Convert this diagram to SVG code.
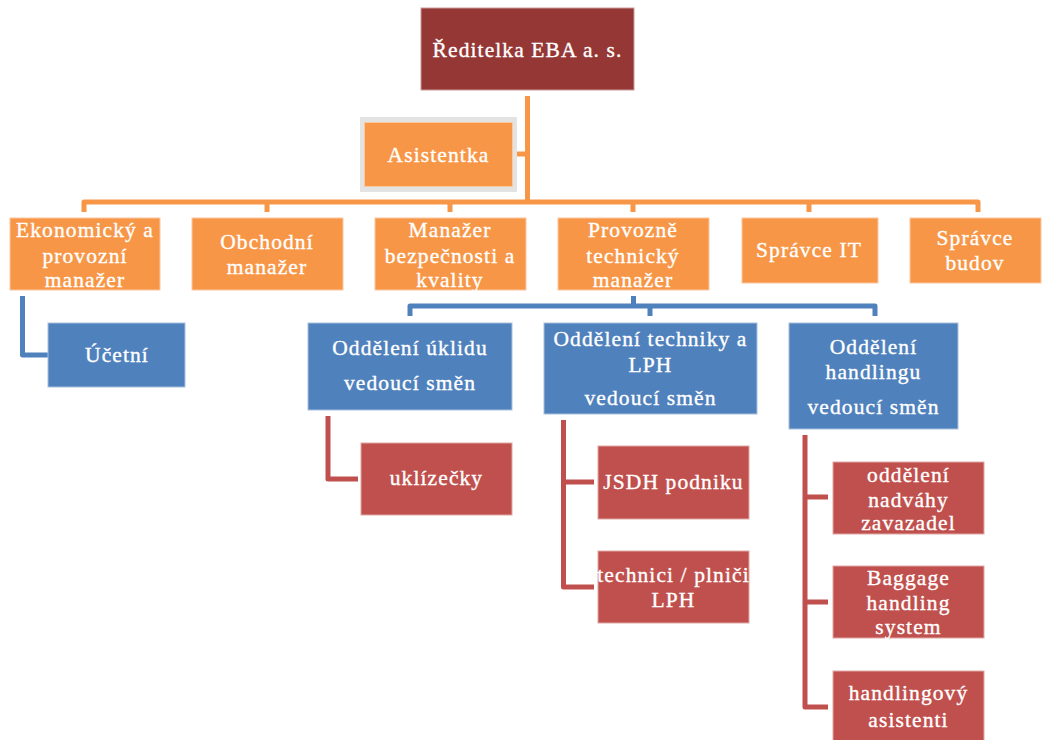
<svg xmlns="http://www.w3.org/2000/svg" width="1044" height="740" viewBox="0 0 1044 740">
<style>
text{font-family:"Liberation Serif","Times New Roman",serif;font-size:21.5px;fill:#ffffff;stroke:#ffffff;stroke-width:0.35px;text-anchor:middle;letter-spacing:1.1px}
.or{fill:#F79646;stroke:#FBC8A0;stroke-width:1}
.bl{fill:#4F81BD;stroke:#A9C0DE;stroke-width:1}
.rd{fill:#C0504D;stroke:#E0A8A6;stroke-width:1}
.dr{fill:#953735;stroke:#C99B9A;stroke-width:1}
.c{fill:none;stroke-width:5;stroke-linejoin:round;stroke-linecap:butt}
.co{stroke:#F79646}.cb{stroke:#4F81BD}.cr{stroke:#C0504D}
</style>
<rect width="1044" height="740" fill="#ffffff"/>
<g id="connectors">
<path class="c co" d="M527.5,96 V202"/>
<path class="c co" d="M517,154 H527.5"/>
<path class="c co" d="M84,212 V202 H978 V212"/>
<path class="c co" d="M267,202 V212 M450,202 V212 M633,202 V212 M809,202 V212"/>
<path class="c cb" d="M633.5,296 V306"/>
<path class="c cb" d="M410,316 V306 H875 V316 M650,306 V316"/>
<path class="c cb" d="M22.5,296 V355 H48"/>
<path class="c cr" d="M328,416 V479 H358"/>
<path class="c cr" d="M563.5,420 V587 H594 M563.5,482 H594"/>
<path class="c cr" d="M805,435 V707 H828 M805,497 H828 M805,602 H828"/>
</g>
<g id="n-reditelka"><rect class="dr" x="421" y="8" width="213" height="82"/><text x="527.5" y="57">Ředitelka EBA a. s.</text></g>
<g id="n-asistentka"><rect x="360" y="117" width="157" height="75" fill="#E3E3E3"/><rect class="or" x="364.5" y="122.5" width="148" height="64"/><text x="438.5" y="162">Asistentka</text></g>
<g id="n-ekonomicky"><rect class="or" x="10" y="218" width="150" height="72"/><text x="85" y="237">Ekonomický a</text><text x="85" y="263">provozní</text><text x="85" y="287">manažer</text></g>
<g id="n-obchodni"><rect class="or" x="192" y="218" width="151" height="72"/><text x="267" y="249">Obchodní</text><text x="267" y="274">manažer</text></g>
<g id="n-bezpecnost"><rect class="or" x="375" y="218" width="151" height="72"/><text x="450" y="237">Manažer</text><text x="450" y="263">bezpečnosti a</text><text x="450" y="287">kvality</text></g>
<g id="n-provozne"><rect class="or" x="558" y="218" width="151" height="72"/><text x="633" y="237">Provozně</text><text x="633" y="263">technický</text><text x="633" y="287">manažer</text></g>
<g id="n-spravce-it"><rect class="or" x="742" y="218" width="136" height="65"/><text x="809" y="257">Správce IT</text></g>
<g id="n-spravce-budov"><rect class="or" x="910" y="218" width="131" height="65"/><text x="975" y="245">Správce</text><text x="975" y="270">budov</text></g>
<g id="n-ucetni"><rect class="bl" x="48" y="323" width="137" height="64"/><text x="117" y="362">Účetní</text></g>
<g id="n-uklid"><rect class="bl" x="308" y="323" width="204" height="87"/><text x="410" y="355">Oddělení úklidu</text><text x="410" y="390">vedoucí směn</text></g>
<g id="n-technika"><rect class="bl" x="544" y="323" width="213" height="91"/><text x="650.5" y="346">Oddělení techniky a</text><text x="650.5" y="372">LPH</text><text x="650.5" y="405">vedoucí směn</text></g>
<g id="n-handling"><rect class="bl" x="789" y="323" width="169" height="106"/><text x="873.5" y="354">Oddělení</text><text x="873.5" y="379">handlingu</text><text x="873.5" y="414">vedoucí směn</text></g>
<g id="n-uklizecky"><rect class="rd" x="361" y="443" width="151" height="72"/><text x="436.5" y="485">uklízečky</text></g>
<g id="n-jsdh"><rect class="rd" x="598" y="446" width="151" height="73"/><text x="673.5" y="489">JSDH podniku</text></g>
<g id="n-technici"><rect class="rd" x="598" y="551" width="151" height="72"/><text x="673.5" y="582">technici / plniči</text><text x="673.5" y="607">LPH</text></g>
<g id="n-nadvaha"><rect class="rd" x="833" y="462" width="151" height="72"/><text x="908.5" y="482">oddělení</text><text x="908.5" y="507">nadváhy</text><text x="908.5" y="530">zavazadel</text></g>
<g id="n-baggage"><rect class="rd" x="833" y="566" width="151" height="72"/><text x="908.5" y="585">Baggage</text><text x="908.5" y="610">handling</text><text x="908.5" y="634">system</text></g>
<g id="n-asistenti"><rect class="rd" x="833" y="671" width="151" height="72"/><text x="908.5" y="700">handlingový</text><text x="908.5" y="727">asistenti</text></g>
</svg>
